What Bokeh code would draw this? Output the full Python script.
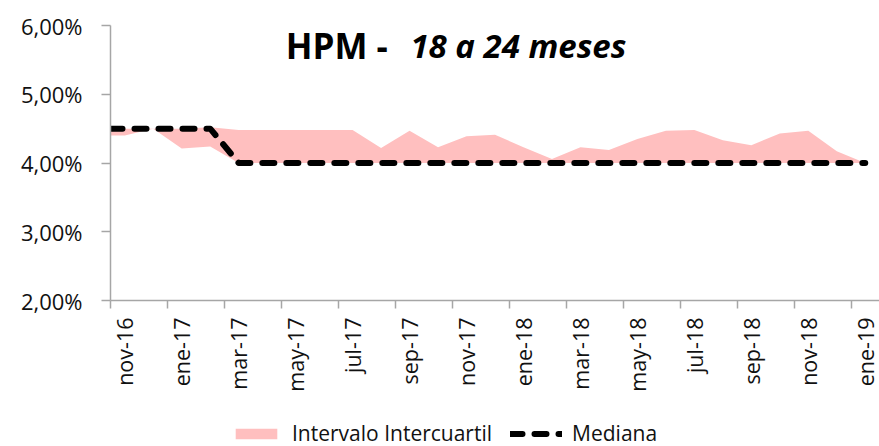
import math
from bokeh.plotting import figure
from bokeh.layouts import column
from bokeh.models import Range1d, FixedTicker, LinearAxis, Label, Legend, LegendItem
from bokeh.embed import file_html
from bokeh.resources import INLINE

months = ["nov-16", "dic-16", "ene-17", "feb-17", "mar-17", "abr-17", "may-17",
          "jun-17", "jul-17", "ago-17", "sep-17", "oct-17", "nov-17", "dic-17",
          "ene-18", "feb-18", "mar-18", "abr-18", "may-18", "jun-18", "jul-18",
          "ago-18", "sep-18", "oct-18", "nov-18", "dic-18", "ene-19"]
upper = [4.50, 4.50, 4.50, 4.52, 4.48, 4.48, 4.48, 4.48, 4.48, 4.22, 4.47, 4.23,
         4.39, 4.41, 4.23, 4.06, 4.23, 4.19, 4.35, 4.47, 4.48, 4.33, 4.26, 4.43,
         4.47, 4.17, 4.00]
lower = [4.40, 4.50, 4.21, 4.24, 4.00, 4.00, 4.00, 4.00, 4.00, 4.00, 4.00, 4.00,
         4.00, 4.00, 4.00, 4.00, 4.00, 4.00, 4.00, 4.00, 4.00, 4.00, 4.00, 4.00,
         4.00, 4.00, 4.00]
median = [4.5, 4.5, 4.5, 4.5, 4.0, 4.0, 4.0, 4.0, 4.0, 4.0, 4.0, 4.0, 4.0, 4.0,
          4.0, 4.0, 4.0, 4.0, 4.0, 4.0, 4.0, 4.0, 4.0, 4.0, 4.0, 4.0, 4.0]
y_ticks = [2, 3, 4, 5, 6]
y_tick_labels = ["2,00%", "3,00%", "4,00%", "5,00%", "6,00%"]

title_main = "HPM -"
title_sub = "18 a 24 meses"
legend_band = "Intervalo Intercuartil"
legend_median = "Mediana"

FONT = "Open Sans"
AXIS_GREY = "#A6A6A6"
TEXT = "#111111"
PINK = "#FFBFBF"
BAND_STYLE = dict(fill_color=PINK)
MED_STYLE = dict(line_color="black", line_width=6, line_dash="12 12",
                 line_cap="round", line_join="round")

n = len(months)
x_start = 0.0
x_centers = [i + 0.5 for i in range(n)]
# points sit at category centres; the series start at the left edge of the plot area
x_draw = [x_start] + x_centers
upper_draw = [upper[0]] + upper
lower_draw = [lower[0]] + lower
median_draw = [median[0]] + median

p = figure(frame_width=769, frame_height=275,
           x_range=Range1d(x_start, n), y_range=Range1d(y_ticks[0], y_ticks[-1]),
           output_backend="svg", toolbar_location=None,
           x_axis_location=None,
           min_border_left=110, min_border_top=25, min_border_right=0, min_border_bottom=100)
p.outline_line_color = None
p.grid.visible = False
p.background_fill_color = "white"

# y axis
ya = p.yaxis[0]
ya.ticker = FixedTicker(ticks=y_ticks)
ya.major_label_overrides = {t: l for t, l in zip(y_ticks, y_tick_labels)}
ya.axis_line_color = AXIS_GREY
ya.axis_line_width = 1.5
ya.major_tick_line_color = AXIS_GREY
ya.major_tick_line_width = 1.5
ya.major_tick_out = 9
ya.major_tick_in = 0
ya.minor_tick_line_color = None
ya.major_label_standoff = 19
ya.major_label_text_font = FONT
ya.major_label_text_font_size = "22px"
ya.major_label_text_color = TEXT

# x axis: tick marks at category boundaries
tick_pos = list(range(0, n, 2))
ax1 = LinearAxis(ticker=FixedTicker(ticks=tick_pos),
                 major_label_overrides={t: "" for t in tick_pos},
                 major_label_text_font_size="0px", major_label_standoff=0,
                 axis_line_color=AXIS_GREY, axis_line_width=1.5,
                 major_tick_line_color=AXIS_GREY, major_tick_line_width=1.5,
                 major_tick_out=8, major_tick_in=0, minor_tick_line_color=None)
# x labels at category centres
lab_pos = [i + 0.5 for i in range(0, n, 2)]
ax2 = LinearAxis(ticker=FixedTicker(ticks=lab_pos),
                 major_label_overrides={i + 0.5: months[i] for i in range(0, n, 2)},
                 axis_line_color=None, major_tick_line_color=None, minor_tick_line_color=None,
                 major_tick_out=0, major_tick_in=0,
                 major_label_orientation=math.pi / 2, major_label_standoff=9,
                 major_label_text_font=FONT, major_label_text_font_size="21.5px",
                 major_label_text_color=TEXT)
p.add_layout(ax1, "below")
p.add_layout(ax2, "below")

p.varea(x=x_draw, y1=lower_draw, y2=upper_draw, **BAND_STYLE)
p.line(x=x_draw, y=median_draw, **MED_STYLE)

p.add_layout(Label(x=6.15, y=5.71, text=title_main, text_font=FONT,
                   text_font_style="bold", text_font_size="35px",
                   text_baseline="alphabetic", text_color="black"))
p.add_layout(Label(x=10.53, y=5.71, text=title_sub, text_font=FONT,
                   text_font_style="bold italic", text_font_size="33px",
                   text_baseline="alphabetic", text_color="black"))

# legend strip under the chart; its renderers use the same data and styles,
# but lie outside this strip's ranges so only their legend glyphs are shown
lg = figure(width=879, height=46, x_range=Range1d(0, 1), y_range=Range1d(0, 1),
            output_backend="svg", toolbar_location=None,
            x_axis_location=None, y_axis_location=None,
            min_border_left=0, min_border_right=0, min_border_top=0, min_border_bottom=0)
lg.outline_line_color = None
lg.grid.visible = False
proxy_band = lg.varea(x=x_draw, y1=lower_draw, y2=upper_draw, **BAND_STYLE)
proxy_med = lg.line(x=x_draw, y=median_draw, **MED_STYLE)
legend = Legend(items=[LegendItem(label=legend_band, renderers=[proxy_band]),
                       LegendItem(label=legend_median, renderers=[proxy_med])],
                orientation="horizontal", location=(120, -1),
                glyph_width=52, glyph_height=13, label_standoff=10, spacing=18,
                padding=0, margin=0, border_line_color=None,
                background_fill_alpha=0,
                label_text_font=FONT, label_text_font_size="21px",
                label_text_color=TEXT)
lg.add_layout(legend, "center")

layout = column(p, lg, spacing=0)
open("out.html", "w").write(file_html(layout, INLINE))
